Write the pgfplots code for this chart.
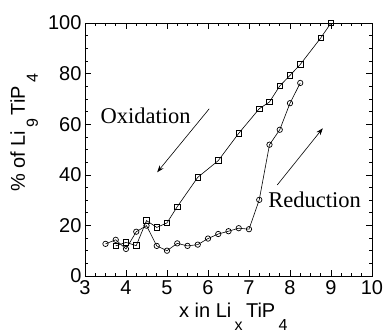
\documentclass[border=0pt]{standalone}
\usepackage{fontspec}
\setmainfont{Liberation Sans}
\newfontfamily\timesfont{Liberation Serif}
\usepackage{pgfplots}
\pgfplotsset{compat=1.18}
\usetikzlibrary{arrows.meta}

% subscripts set low and large, as in the original figure
\newcommand{\lowsub}[1]{\,\raisebox{-13pt}{\fontsize{16}{16}\selectfont #1}\,}

\pgfplotstableread{
x     y
3.75  11.9
4.00  13.3
4.25  12.0
4.50  21.9
4.75  19.2
5.00  21.0
5.25  27.4
5.75  39.0
6.25  45.6
6.75  56.4
7.25  66.1
7.50  68.8
7.75  75.1
8.00  79.3
8.25  83.6
8.75  94.1
9.00  100.0
}\oxidation

\pgfplotstableread{
x     y
3.50  12.7
3.75  14.3
4.00  10.7
4.25  17.5
4.50  19.9
4.75  11.9
5.00  10.0
5.25  12.9
5.50  11.9
5.75  12.4
6.00  14.8
6.25  16.6
6.50  17.7
6.75  18.9
7.00  18.5
7.25  30.1
7.50  51.9
7.75  57.8
8.00  68.3
8.25  76.3
}\reduction

\begin{document}
\begin{tikzpicture}
\path[use as bounding box] (-85pt,-57pt) rectangle (301pt,276pt);
\begin{axis}[
  at={(0,0)}, anchor=south west,
  scale only axis, width=287pt, height=253pt,
  xmin=3, xmax=10, ymin=0, ymax=100,
  xtick={3,4,...,10}, ytick={0,20,...,100},
  minor x tick num=3, minor y tick num=3,
  tick align=inside, tick pos=both,
  major tick length=6pt, minor tick length=3pt,
  tick style={black, line width=0.6pt},
  axis line style={line width=0.8pt},
  /pgf/number format/assume math mode=true,
  tick label style={font=\fontsize{20}{20}\selectfont},
  xticklabel style={yshift=-1pt},
  clip=false,
]
\addplot[black, line width=0.6pt, mark=square, mark size=2.8pt,
  mark options={solid, line width=0.7pt}] table {\oxidation};
\addplot[black, line width=0.6pt, mark=o, mark size=2.7pt,
  mark options={solid, line width=0.7pt}] table {\reduction};

\draw[-{Stealth[length=7pt,width=5pt]}, line width=0.6pt]
  (axis cs:6.03,66.1) -- (axis cs:4.76,41.0);
\draw[-{Stealth[length=7pt,width=5pt]}, line width=0.6pt]
  (axis cs:7.69,36.0) -- (axis cs:8.80,58.4);

\node[font=\timesfont\fontsize{22.5}{22.5}\selectfont, anchor=base]
  at (axis cs:4.48,60.2) {Oxidation};
\node[font=\timesfont\fontsize{22.5}{22.5}\selectfont, anchor=base]
  at (axis cs:8.60,26.9) {Reduction};
\end{axis}

% axis titles
\node[font=\fontsize{20}{20}\selectfont, anchor=base]
  at (150pt,-41pt) {x in Li\lowsub{x}TiP\lowsub{4}};
\node[font=\fontsize{20}{20}\selectfont, anchor=base, rotate=90]
  at (-60pt,145pt) {\% of Li\lowsub{9}TiP\lowsub{4}};
\end{tikzpicture}
\end{document}
